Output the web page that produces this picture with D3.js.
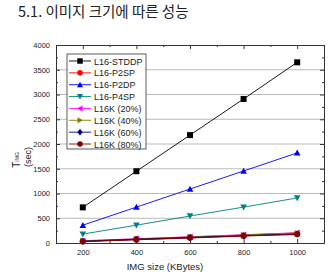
<!DOCTYPE html>
<html>
<head>
<meta charset="utf-8">
<script src="https://cdn.jsdelivr.net/npm/d3@7"></script>
<style>
  body { margin: 0; background: #fff; }
  text { font-family: "Liberation Sans", Arial, sans-serif; }
</style>
</head>
<body>
<svg id="chart" width="331" height="278"></svg>
<script>
// image sizes (KBytes)
const sizes = [200, 400, 600, 800, 1000];

const stddp = [720, 1450, 2180, 2910, 3650];
const p2sp = [35, 75, 112, 150, 186];
const p2dp = [360, 725, 1090, 1455, 1820];
const p4sp = [180, 360, 545, 725, 910];
const k20 = [42, 86, 126, 166, 205];
const k40 = [38, 80, 120, 160, 198];
const k60 = [33, 72, 109, 146, 182];
const k80 = [30, 68, 105, 141, 176];

const seriesNames = ['L16-STDDP', 'L16-P2SP', 'L16-P2DP', 'L16-P4SP', 'L16K (20%)', 'L16K (40%)', 'L16K (60%)', 'L16K (80%)'];
const seriesValues = [stddp, p2sp, p2dp, p4sp, k20, k40, k60, k80];
const colors = ['#000000', '#ff0000', '#0000ff', '#008080', '#ff00ff', '#808000', '#000080', '#800000'];
const symbols = ['square', 'circle', 'triUp', 'triDown', 'triLeft', 'triRight', 'diamond', 'circle'];

const yTicks = d3.range(0, 4001, 500);

const svg = d3.select('#chart');
const margin = { top: 45, right: 7, bottom: 35, left: 56 };
const width = 331 - margin.left - margin.right;
const height = 278 - margin.top - margin.bottom;

const g = svg.append('g').attr('transform', `translate(${margin.left},${margin.top})`);

const x = d3.scaleLinear().domain([100, 1100]).range([0, width]);
const y = d3.scaleLinear().domain([0, 4000]).range([height, 0]);

// title
svg.append('text')
    .attr('x', 18).attr('y', 17)
    .style('font-family', '"Noto Sans CJK KR", sans-serif')
    .style('font-size', '14.5px')
    .attr('fill', '#222')
    .text('5.1. 이미지 크기에 따른 성능');

// gridlines
g.append('g').selectAll('line')
    .data(yTicks.slice(1, -1))
    .join('line')
    .attr('x1', 0).attr('x2', width)
    .attr('y1', d => y(d)).attr('y2', d => y(d))
    .attr('stroke', '#aaa').attr('stroke-width', 0.8);

// axes with inward ticks
const xMinor = d3.range(300, 1000, 200);
const yMinor = d3.range(250, 4000, 500);

g.append('g').attr('transform', `translate(0,${height})`)
    .call(d3.axisBottom(x).tickValues(sizes).tickSize(-4).tickPadding(7).tickFormat(d3.format('d')));
g.append('g')
    .call(d3.axisTop(x).tickValues(sizes).tickSize(-4).tickFormat(''));
g.append('g')
    .call(d3.axisLeft(y).tickValues(yTicks).tickSize(-4).tickPadding(6).tickFormat(d3.format('d')));
g.append('g').attr('transform', `translate(${width},0)`)
    .call(d3.axisRight(y).tickValues(yTicks).tickSize(-4).tickFormat(''));

g.append('g').attr('transform', `translate(0,${height})`)
    .call(d3.axisBottom(x).tickValues(xMinor).tickSize(-2).tickFormat(''));
g.append('g')
    .call(d3.axisTop(x).tickValues(xMinor).tickSize(-2).tickFormat(''));
g.append('g')
    .call(d3.axisLeft(y).tickValues(yMinor).tickSize(-2).tickFormat(''));
g.append('g').attr('transform', `translate(${width},0)`)
    .call(d3.axisRight(y).tickValues(yMinor).tickSize(-2).tickFormat(''));

g.selectAll('.domain').attr('stroke', '#333');
g.selectAll('.tick line').attr('stroke', '#333');
g.selectAll('.tick text').style('font-size', '7.5px').attr('fill', '#222');

// axis labels
svg.append('text')
    .attr('x', margin.left + width / 2 - 25).attr('y', 270)
    .attr('text-anchor', 'middle')
    .style('font-size', '9.5px').attr('fill', '#222')
    .text('IMG size (KBytes)');

const yl = svg.append('text')
    .attr('transform', 'translate(20,160) rotate(-90)')
    .attr('text-anchor', 'middle')
    .style('font-size', '10px').attr('fill', '#222');
yl.append('tspan').text('T');
yl.append('tspan').attr('dy', -1).style('font-size', '5px').text('IMG');

svg.append('text')
    .attr('transform', 'translate(31,157) rotate(-90)')
    .attr('text-anchor', 'middle')
    .style('font-size', '9px').attr('fill', '#222')
    .text('(sec)');

// marker shapes
function markerPath(type, s) {
    const h = s / 2;
    switch (type) {
        case 'square': return `M${-h},${-h}H${h}V${h}H${-h}Z`;
        case 'circle': return d3.symbol(d3.symbolCircle, s * s * 0.8)();
        case 'triUp': return `M0,${-h * 1.1}L${h * 1.1},${h * 0.9}L${-h * 1.1},${h * 0.9}Z`;
        case 'triDown': return `M0,${h * 1.1}L${h * 1.1},${-h * 0.9}L${-h * 1.1},${-h * 0.9}Z`;
        case 'triLeft': return `M${-h * 1.1},0L${h * 0.9},${-h * 1.1}L${h * 0.9},${h * 1.1}Z`;
        case 'triRight': return `M${h * 1.1},0L${-h * 0.9},${-h * 1.1}L${-h * 0.9},${h * 1.1}Z`;
        case 'diamond': return `M0,${-h * 1.2}L${h},0L0,${h * 1.2}L${-h},0Z`;
    }
}

const line = d3.line().x((d, i) => x(sizes[i])).y(d => y(d));

seriesValues.forEach((vals, si) => {
    const sg = g.append('g');
    sg.append('path')
        .datum(vals)
        .attr('d', line)
        .attr('fill', 'none')
        .attr('stroke', colors[si])
        .attr('stroke-width', si >= 4 ? 1.2 : 0.9);
    sg.selectAll('path.m')
        .data(vals)
        .join('path')
        .attr('class', 'm')
        .attr('transform', (d, i) => `translate(${x(sizes[i])},${y(d)})`)
        .attr('d', markerPath(symbols[si], 6))
        .attr('fill', colors[si]);
});

// legend
const lg = svg.append('g').attr('transform', 'translate(67,54)');
lg.append('rect')
    .attr('width', 79).attr('height', 95)
    .attr('fill', '#fff').attr('stroke', '#333').attr('stroke-width', 0.8);
const rowY = d3.scaleLinear().domain([0, 7]).range([7, 90]);
seriesNames.forEach((name, i) => {
    const row = lg.append('g').attr('transform', `translate(0,${rowY(i)})`);
    row.append('line')
        .attr('x1', 2).attr('x2', 24)
        .attr('stroke', colors[i]).attr('stroke-width', 0.9);
    row.append('path')
        .attr('transform', 'translate(13,0)')
        .attr('d', markerPath(symbols[i], 5.5))
        .attr('fill', colors[i]);
    row.append('text')
        .attr('x', 27).attr('y', 3.5)
        .style('font-size', '9px').attr('fill', '#222')
        .text(name);
});
</script>
</body>
</html>
